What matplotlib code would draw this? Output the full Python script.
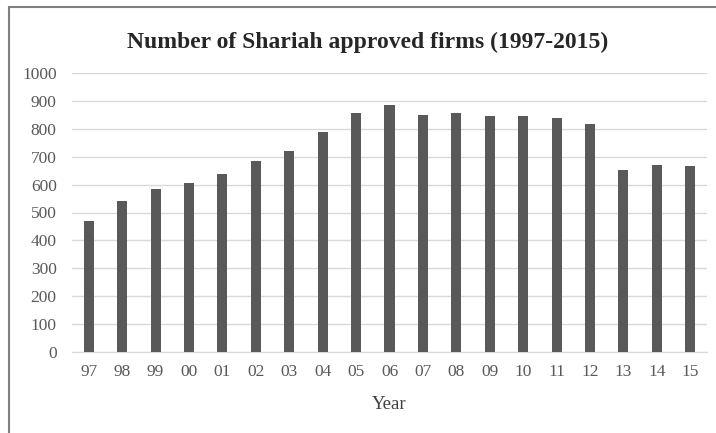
import matplotlib.pyplot as plt
from matplotlib.patches import Rectangle

# Number of Shariah approved firms per year
years = ['97', '98', '99', '00', '01', '02', '03', '04', '05', '06',
         '07', '08', '09', '10', '11', '12', '13', '14', '15']
firms = [470, 540, 584, 606, 638, 683, 722, 787, 855, 886,
         850, 855, 845, 845, 838, 817, 653, 671, 665]

plt.rcParams['font.family'] = ['Liberation Serif', 'DejaVu Serif']

fig = plt.figure(figsize=(7.16, 4.33), dpi=100)
ax = fig.add_axes([72 / 716, 1 - 352 / 433, 635 / 716, 279 / 433])

ax.bar(range(len(years)), firms, width=0.3, color='#595959', zorder=3)

ax.set_xlim(-0.5, len(years) - 0.5)
ax.set_ylim(0, 1000)
ax.set_yticks(range(0, 1001, 100))
ax.set_xticks(range(len(years)))
ax.set_xticklabels(years)
ax.grid(axis='y', color='#d9d9d9', linewidth=1, zorder=0)
ax.tick_params(length=0, labelsize=12.5, colors='#595959')
ax.tick_params(axis='y', pad=11)
ax.tick_params(axis='x', pad=9)
for side in ['top', 'right', 'left']:
    ax.spines[side].set_visible(False)
ax.spines['bottom'].set_color('#d9d9d9')
ax.set_xlabel('Year', fontsize=13.5, color='#404040', labelpad=11)

fig.text(368 / 716, 1 - 42 / 433, 'Number of Shariah approved firms (1997-2015)',
         ha='center', va='center', fontsize=17, fontweight='bold', color='#262626')

# frame around the chart
fig.patches.append(Rectangle((9 / 716, -0.1), 1.2, 1 - 7 / 433 + 0.1,
                             transform=fig.transFigure, fill=False,
                             edgecolor='#7f7f7f', linewidth=1.5))

fig.savefig('out.png', dpi=100)
